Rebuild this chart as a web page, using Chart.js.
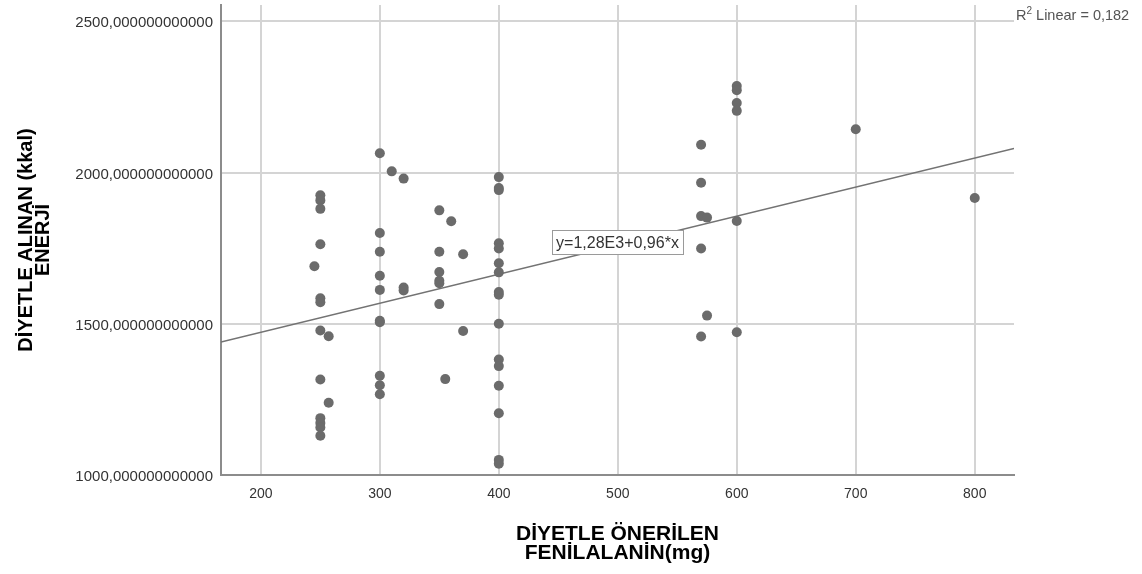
<!DOCTYPE html>
<html lang="tr">
<head>
<meta charset="UTF-8">
<title>Diyetle önerilen fenilalanin ve alınan enerji</title>
<script src="https://cdn.jsdelivr.net/npm/chart.js"></script>
<style>
  html, body { margin: 0; padding: 0; background: #fff; }
  #wrap { width: 1142px; height: 574px; }
</style>
</head>
<body>
<div id="wrap"><canvas id="scatter" width="1142" height="574"></canvas></div>
<script>
// diyetle önerilen fenilalanin (mg)
const phe = [
  250, 250, 250, 250, 250, 250, 250, 250, 250, 250, 250, 250, 245, 257, 257,
  300, 300, 300, 300, 300, 300, 300, 300, 300, 300, 310, 320, 320, 320,
  350, 350, 350, 350, 350, 350, 360, 370, 370, 355,
  400, 400, 400, 400, 400, 400, 400, 400, 400, 400, 400, 400, 400, 400, 400, 400,
  570, 570, 570, 570, 570, 575, 575,
  600, 600, 600, 600, 600, 600,
  700, 800
];
// diyetle alınan enerji (kkal)
const energy = [
  1925, 1908, 1880, 1763, 1584, 1571, 1478, 1316, 1188, 1172, 1157, 1130, 1690, 1459, 1239,
  2064, 1800, 1738, 1659, 1612, 1510, 1505, 1328, 1297, 1267, 2004, 1980, 1620, 1610,
  1875, 1738, 1671, 1642, 1634, 1565, 1839, 1730, 1476, 1317,
  1985, 1949, 1942, 1766, 1749, 1700, 1670, 1605, 1596, 1500, 1382, 1360, 1295, 1204, 1050, 1037,
  2092, 1966, 1856, 1749, 1458, 1851, 1527,
  2286, 2272, 2230, 2204, 1840, 1472,
  2143, 1916
];
const xTicks = [200, 300, 400, 500, 600, 700, 800];
const yTicks = [1000, 1500, 2000, 2500];
const xRange = [166.5, 833];
const yRange = [1000, 2554];
const fitIntercept = 1280;
const fitSlope = 0.96;
const fitText = 'y=1,28E3+0,96*x';
const r2Text = '0,182';

const FONT = '"Liberation Sans", Arial, sans-serif';
Chart.defaults.font.family = FONT;

const points = phe.map((v, i) => ({ x: v, y: energy[i] }));
const fitLine = xRange.map(v => ({ x: v, y: fitIntercept + fitSlope * v }));

// denklem kutusu ve R² yazısı
const fitLabels = {
  id: 'fitLabels',
  afterDatasetsDraw(chart) {
    const { ctx, chartArea, scales: { x, y } } = chart;
    const mid = (xRange[0] + xRange[1]) / 2;
    const cx = x.getPixelForValue(mid);
    const cy = y.getPixelForValue(fitIntercept + fitSlope * mid);
    ctx.save();
    ctx.font = '16px ' + FONT;
    const w = Math.round(ctx.measureText(fitText).width + 8);
    const h = 24;
    const bx = Math.round(cx - w / 2) + 0.5, by = Math.round(cy - h / 2) - 2.5;
    ctx.fillStyle = '#fff';
    ctx.fillRect(bx, by, w, h);
    ctx.strokeStyle = '#9a9a9a';
    ctx.lineWidth = 1;
    ctx.strokeRect(bx, by, w, h);
    ctx.fillStyle = '#333';
    ctx.textAlign = 'center';
    ctx.textBaseline = 'middle';
    ctx.fillText(fitText, cx, by + h / 2 + 1);

    // R² Linear
    const tx = chartArea.right + 2, ty = 20;
    ctx.textAlign = 'left';
    ctx.textBaseline = 'alphabetic';
    ctx.fillStyle = '#555';
    ctx.font = '14.5px ' + FONT;
    ctx.fillText('R', tx, ty);
    let off = tx + ctx.measureText('R').width;
    ctx.font = '10px ' + FONT;
    ctx.fillText('2', off, ty - 6);
    off += ctx.measureText('2').width;
    ctx.font = '14.5px ' + FONT;
    ctx.fillText(' Linear = ' + r2Text, off, ty);
    ctx.restore();
  }
};

new Chart(document.getElementById('scatter'), {
  type: 'scatter',
  data: {
    datasets: [
      {
        data: points,
        backgroundColor: '#6b6b6b',
        borderWidth: 0,
        pointRadius: 5,
        pointHoverRadius: 5,
        order: 0
      },
      {
        data: fitLine,
        showLine: true,
        borderColor: '#737373',
        borderWidth: 1.5,
        pointRadius: 0,
        order: 1
      }
    ]
  },
  options: {
    responsive: false,
    animation: false,
    layout: { padding: { top: 1, right: 128, left: 0, bottom: 0 } },
    plugins: { legend: { display: false }, tooltip: { enabled: false } },
    scales: {
      x: {
        type: 'linear',
        min: xRange[0],
        max: xRange[1],
        afterBuildTicks: s => { s.ticks = xTicks.map(v => ({ value: v })); },
        afterFit: s => { s.height = 99; s.paddingLeft = 0; s.paddingRight = 0; },
        grid: { color: '#d4d4d4', lineWidth: 2, drawTicks: false },
        border: { color: '#8c8c8c', width: 2 },
        ticks: { autoSkip: false, maxRotation: 0, padding: 11, color: '#333', font: { size: 14 } },
        title: {
          display: true,
          text: ['DİYETLE ÖNERİLEN', 'FENİLALANİN(mg)'],
          color: '#000',
          font: { size: 21, weight: 'bold', lineHeight: '19.5px' },
          padding: { top: 0, bottom: 11 }
        }
      },
      y: {
        type: 'linear',
        min: yRange[0],
        max: yRange[1],
        afterBuildTicks: s => { s.ticks = yTicks.map(v => ({ value: v })); },
        afterFit: s => { s.width = 221; s.paddingTop = 0; s.paddingBottom = 0; },
        grid: { color: '#d4d4d4', lineWidth: 2, drawTicks: false },
        border: { color: '#8c8c8c', width: 2 },
        ticks: {
          autoSkip: false,
          padding: 8,
          labelOffset: 2,
          color: '#333',
          font: { size: 15 },
          callback: v => v + ',000000000000'
        },
        title: {
          display: true,
          text: ['DİYETLE ALINAN (kkal)', 'ENERJİ'],
          color: '#000',
          font: { size: 20, weight: 'bold', lineHeight: '17px' },
          padding: { top: 18, bottom: 0 }
        }
      }
    }
  },
  plugins: [fitLabels]
});
</script>
</body>
</html>
